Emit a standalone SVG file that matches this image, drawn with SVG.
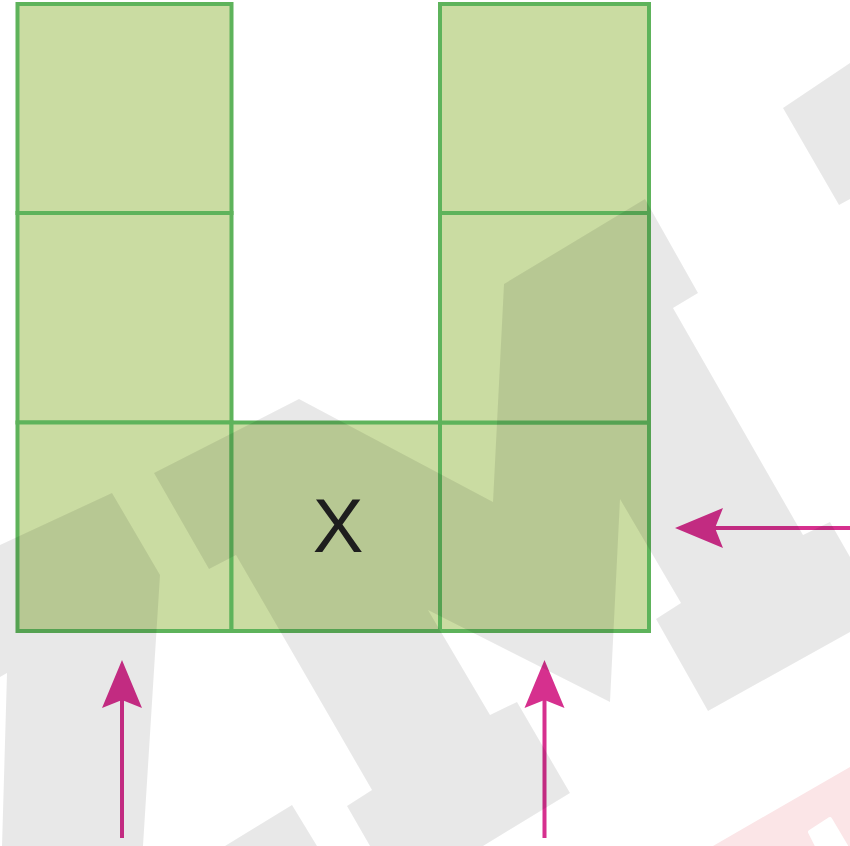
<svg xmlns="http://www.w3.org/2000/svg" width="850" height="846" viewBox="0 0 850 846">
  <style>
    .cell { fill: #cadca2; stroke: #5eb35b; stroke-width: 4; }
    .lbl { font-family: "Liberation Sans", Arial, sans-serif; font-size: 76px; fill: #222; text-anchor: middle; }
    .arrow { stroke: #d6308e; stroke-width: 4; fill: none; marker-end: url(#head); }
    .wm { fill: #000; fill-opacity: 0.09; }
  </style>
  <defs>
    <marker id="head" markerUnits="userSpaceOnUse" markerWidth="50" markerHeight="42" refX="8" refY="20" orient="auto" overflow="visible">
      <path d="M48,20 L0,0 L8,20 L0,40 Z" fill="#d6308e"/>
    </marker>
  </defs>
  <rect width="850" height="846" fill="#fff"/>

  <g id="cell-0-0"><rect class="cell" x="17.5" y="4" width="214" height="209"/></g>
  <g id="cell-0-1"><rect class="cell" x="17.5" y="213" width="214" height="209.5"/></g>
  <g id="cell-0-2"><rect class="cell" x="17.5" y="422.5" width="214" height="208.5"/></g>
  <g id="cell-1-2"><rect class="cell" x="231.5" y="422.5" width="208.5" height="208.5"/>
    <text class="lbl" x="338" y="552">X</text></g>
  <g id="cell-2-2"><rect class="cell" x="440" y="422.5" width="209" height="208.5"/></g>
  <g id="cell-2-1"><rect class="cell" x="440" y="213" width="209" height="209.5"/></g>
  <g id="cell-2-0"><rect class="cell" x="440" y="4" width="209" height="209"/></g>

  <g id="connectors">
    <line class="arrow" x1="122" y1="838" x2="122" y2="700"/>
    <line class="arrow" x1="544.5" y1="838" x2="544.5" y2="700"/>
    <line class="arrow" x1="850" y1="528" x2="715" y2="528"/>
  </g>

  <g id="watermark">
    <path class="wm" d="M0,545 L112,493 L160,575 L143,846 L2,846 L7,673 L0,677 Z
      M154,473 L299,399 L493,502 L504,284 L645,199 L698,293 L673,308 L803,535 L830,522 L850,557 L850,632 L708,711 L656,619 L681,603 L620,499 L610,702 L428,610 L490,715 L517,702 L570,793 L483,846 L370,846 L347,806 L372,790 L236,555 L209,569 Z
      M225,846 L292,805 L317,846 Z
      M783,108 L850,63 L850,199 L839,205 Z"/>
    <path d="M713,846 L850,767 L850,846 Z" fill="#fbe5e7"/>
    <path d="M810,832 L830,819 L846,846 L817,846 Z" fill="#fff" stroke="#fff" stroke-width="4" stroke-linejoin="round"/>
  </g>
</svg>
